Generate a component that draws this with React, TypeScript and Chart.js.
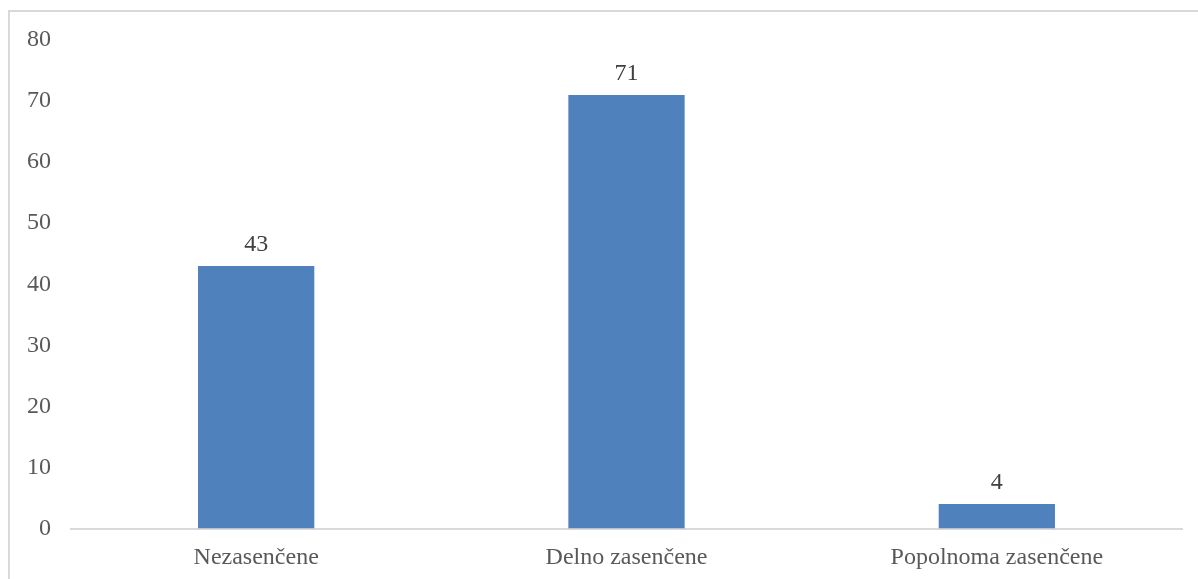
import React, { useEffect, useRef } from "react";
import { Chart, registerables } from "chart.js";

Chart.register(...registerables);

const categories = ["Nezasenčene", "Delno zasenčene", "Popolnoma zasenčene"];
const values = [43, 71, 4];
const yTicks = [0, 10, 20, 30, 40, 50, 60, 70, 80];

const FONT = "'Liberation Serif', 'Times New Roman', serif";

const dataLabels = {
  id: "dataLabels",
  afterDatasetsDraw(chart: any) {
    const ctx = chart.ctx;
    const meta = chart.getDatasetMeta(0);
    ctx.save();
    ctx.font = `24px ${FONT}`;
    ctx.fillStyle = "#404040";
    ctx.textAlign = "center";
    ctx.textBaseline = "alphabetic";
    meta.data.forEach((bar: any, i: number) => {
      ctx.fillText(String(chart.data.datasets[0].data[i]), bar.x, bar.y - 15);
    });
    ctx.restore();
  },
};

export default function App() {
  const ref = useRef<HTMLCanvasElement>(null);
  useEffect(() => {
    if (!ref.current) return;
    const chart = new Chart(ref.current, {
      type: "bar",
      data: {
        labels: categories,
        datasets: [
          {
            data: values,
            backgroundColor: "#4F81BD",
            borderWidth: 0,
            categoryPercentage: 1,
            barPercentage: 0.314,
          },
        ],
      },
      options: {
        animation: false,
        responsive: false,
        maintainAspectRatio: false,
        layout: { padding: { top: 28, right: 16, bottom: 6.5, left: 0 } },
        plugins: { legend: { display: false }, tooltip: { enabled: false }, title: { display: false } },
        scales: {
          x: {
            grid: { display: false, drawTicks: false },
            border: { display: true, color: "#d9d9d9", width: 2 },
            ticks: {
              padding: 15,
              color: "#595959",
              font: { family: FONT, size: 24 },
              maxRotation: 0,
            },
            afterFit: (s: any) => {
              s.height = 44;
              s.paddingLeft = 0;
              s.paddingRight = 0;
            },
          },
          y: {
            min: 0,
            max: 80,
            grid: { display: false, drawTicks: false },
            border: { display: false },
            afterBuildTicks: (s: any) => {
              s.ticks = yTicks.map((v) => ({ value: v }));
            },
            ticks: {
              padding: 20,
              color: "#595959",
              font: { family: FONT, size: 24 },
            },
            afterFit: (s: any) => {
              s.width = 61;
              s.paddingTop = 0;
              s.paddingBottom = 0;
            },
          },
        },
      },
      plugins: [dataLabels],
    });
    return () => chart.destroy();
  }, []);

  return (
    <div
      style={{
        position: "fixed",
        left: 8,
        top: 10,
        width: 1200,
        height: 580,
        borderLeft: "2px solid #d9d9d9",
        borderTop: "2px solid #d9d9d9",
        background: "#fff",
      }}
    >
      <canvas ref={ref} width={1188} height={567} style={{ display: "block", width: 1188, height: 567 }} />
    </div>
  );
}
